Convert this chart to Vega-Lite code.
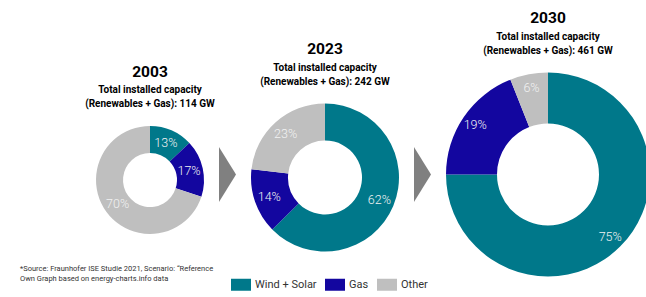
{
  "$schema": "https://vega.github.io/schema/vega-lite/v6.json",
  "background": "white",
  "padding": {"left": 20, "top": 11, "right": 0, "bottom": 0},
  "data": {"values": [
    {"year": "2003", "category": "Wind + Solar", "rank": 1, "share": 0.13},
    {"year": "2003", "category": "Gas", "rank": 2, "share": 0.17},
    {"year": "2003", "category": "Other", "rank": 3, "share": 0.70},
    {"year": "2023", "category": "Wind + Solar", "rank": 1, "share": 0.62},
    {"year": "2023", "category": "Gas", "rank": 2, "share": 0.14},
    {"year": "2023", "category": "Other", "rank": 3, "share": 0.23},
    {"year": "2030", "category": "Wind + Solar", "rank": 1, "share": 0.75},
    {"year": "2030", "category": "Gas", "rank": 2, "share": 0.19},
    {"year": "2030", "category": "Other", "rank": 3, "share": 0.06}
  ]},
  "spacing": 15,
  "bounds": "flush",
  "resolve": {"scale": {"theta": "independent"}},
  "hconcat": [
    {
      "width": 108, "height": 108,
      "title": {"text": "2003", "subtitle": ["Total installed capacity", "(Renewables + Gas): 114 GW"]},
      "transform": [{"filter": {"field": "year", "equal": "2003"}}],
      "encoding": {
        "theta": {"field": "share", "type": "quantitative", "stack": true},
        "order": {"field": "rank", "type": "quantitative"}
      },
      "layer": [
        {"mark": {"type": "arc", "outerRadius": 54, "innerRadius": 27},
         "encoding": {"color": {"field": "category", "type": "nominal",
           "scale": {"domain": ["Wind + Solar", "Gas", "Other"], "range": ["#00788A", "#13069F", "#BFBFBF"]},
           "legend": {"title": ["*Source: Fraunhofer ISE Studie 2021, Scenario: \u201cReference", "Own Graph based on energy-charts.info data"]}}}},
        {"mark": {"type": "text", "radius": 40, "font": "Roboto", "fontWeight": 300, "fontSize": 12.5, "color": "#f2f2f2"},
         "encoding": {"detail": {"field": "category"}, "text": {"field": "share", "type": "quantitative", "format": ".0%"}}}
      ]
    },
    {
      "width": 17, "height": 97,
      "data": {"values": [{"from": "2003", "to": "2023"}]},
      "mark": {"type": "point", "shape": "M-0.31,-1L0.31,0L-0.31,1Z", "size": 3025, "filled": true, "color": "#808080", "opacity": 1},
      "encoding": {}
    },
    {
      "width": 148, "height": 103,
      "title": {"text": "2023", "subtitle": ["Total installed capacity", "(Renewables + Gas): 242 GW"]},
      "transform": [{"filter": {"field": "year", "equal": "2023"}}],
      "encoding": {
        "theta": {"field": "share", "type": "quantitative", "stack": true},
        "order": {"field": "rank", "type": "quantitative"}
      },
      "layer": [
        {"mark": {"type": "arc", "outerRadius": 74, "innerRadius": 37},
         "encoding": {"color": {"field": "category", "type": "nominal",
           "scale": {"domain": ["Wind + Solar", "Gas", "Other"], "range": ["#00788A", "#13069F", "#BFBFBF"]},
           "legend": {"title": ["*Source: Fraunhofer ISE Studie 2021, Scenario: \u201cReference", "Own Graph based on energy-charts.info data"]}}}},
        {"mark": {"type": "text", "radius": 59, "font": "Roboto", "fontWeight": 300, "fontSize": 12.5, "color": "#f2f2f2"},
         "encoding": {"detail": {"field": "category"}, "text": {"field": "share", "type": "quantitative", "format": ".0%"}}}
      ]
    },
    {
      "width": 17, "height": 97,
      "data": {"values": [{"from": "2023", "to": "2030"}]},
      "mark": {"type": "point", "shape": "M-0.31,-1L0.31,0L-0.31,1Z", "size": 3025, "filled": true, "color": "#808080", "opacity": 1},
      "encoding": {}
    },
    {
      "width": 204, "height": 97,
      "title": {"text": "2030", "subtitle": ["Total installed capacity", "(Renewables + Gas): 461 GW"]},
      "transform": [{"filter": {"field": "year", "equal": "2030"}}],
      "encoding": {
        "theta": {"field": "share", "type": "quantitative", "stack": true},
        "order": {"field": "rank", "type": "quantitative"}
      },
      "layer": [
        {"mark": {"type": "arc", "outerRadius": 102, "innerRadius": 51},
         "encoding": {"color": {"field": "category", "type": "nominal",
           "scale": {"domain": ["Wind + Solar", "Gas", "Other"], "range": ["#00788A", "#13069F", "#BFBFBF"]},
           "legend": {"title": ["*Source: Fraunhofer ISE Studie 2021, Scenario: \u201cReference", "Own Graph based on energy-charts.info data"]}}}},
        {"mark": {"type": "text", "radius": 88, "font": "Roboto", "fontWeight": 300, "fontSize": 12.5, "color": "#f2f2f2"},
         "encoding": {"detail": {"field": "category"}, "text": {"field": "share", "type": "quantitative", "format": ".0%"}}}
      ]
    }
  ],
  "config": {
    "view": {"stroke": null},
    "title": {
      "font": "Roboto", "fontSize": 15.5, "fontWeight": "bold", "color": "#000000", "anchor": "middle",
      "subtitleFont": "Roboto", "subtitleFontSize": 10, "subtitleFontWeight": "bold", "subtitleColor": "#000000",
      "subtitlePadding": 5, "subtitleLineHeight": 14, "offset": 17
    },
    "legend": {
      "orient": "none", "legendX": -76, "legendY": 143, "direction": "horizontal", "padding": 0,
      "titleOrient": "left", "titleAnchor": "start", "titleBaseline": "middle", "titleAlign": "left",
      "titleFont": "Roboto", "titleFontSize": 7.5, "titleFontWeight": "normal", "titleColor": "#333333", "titleLineHeight": 10,
      "titlePadding": 17, "titleLimit": 400,
      "symbolType": "M-1,-0.05H1V1.15H-1Z", "symbolSize": 400, "symbolStrokeWidth": 0, "symbolOpacity": 1,
      "labelFont": "Roboto", "labelFontSize": 11, "labelColor": "#333333", "labelOffset": 4, "labelBaseline": "top",
      "columnPadding": 8
    }
  }
}
